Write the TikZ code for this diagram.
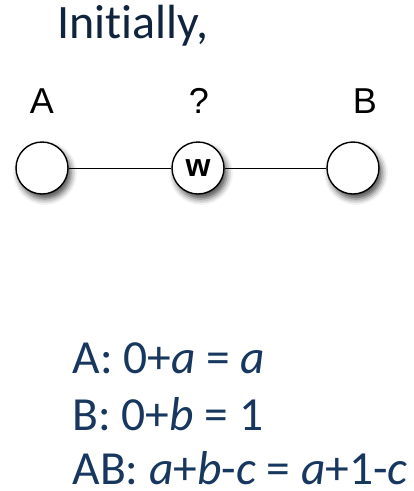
\documentclass[tikz,border=0pt]{standalone}
\usepackage{fontspec}
\setmainfont{Carlito}[Ligatures=NoCommon]
\newfontfamily\arialfont{Liberation Sans}
\usetikzlibrary{positioning, shadows.blur}
\definecolor{navy}{HTML}{17375E}
\definecolor{dknavy}{HTML}{10243E}

\begin{document}
\begin{tikzpicture}[x=1pt, y=-1pt, line width=1pt]

% Background
\useasboundingbox (0,0) rectangle (414,491);

\tikzset{
  vertex/.style={circle, draw=black, fill=white, line width=1.4pt, minimum size=52pt, inner sep=0pt,
    blur shadow={shadow xshift=3pt, shadow yshift=-5pt, shadow blur radius=6pt, shadow opacity=70}},
  toplbl/.style={font=\arialfont\fontsize{36}{40}\selectfont, text=black, inner sep=0pt, anchor=base},
  eqn/.style={font=\fontsize{47.5}{52}\selectfont, text=navy, inner sep=0pt, anchor=base west}
}

% Title
\node[font=\fontsize{48}{54}\selectfont, text=dknavy, inner sep=0pt, anchor=base west] (title) at (57,38) {Initially,};

% Graph
\node[vertex] (A) at (42,168) {};
\node[vertex, font=\arialfont\bfseries\fontsize{32}{36}\selectfont] (W) at (198,168) {w};
\node[vertex] (B) at (353,168) {};
\draw (A) -- (W);
\draw (W) -- (B);

% Labels
\foreach \nm/\xx/\tx in {la/42/A, lw/199/?, lb/365/B} {
  \node[toplbl] (\nm) at (\xx,113) {\tx};
}

% Payoffs
\node[eqn] (eqA) at (72,373) {A: 0+\textit{a} = \textit{a}};
\node[eqn] (eqB) at (72,430) {B: 0+\textit{b} = 1};
\node[eqn] (eqAB) at (72,484) {AB: \textit{a}+\textit{b}-\textit{c} = \textit{a}+1-\textit{c}};

\end{tikzpicture}
\end{document}
